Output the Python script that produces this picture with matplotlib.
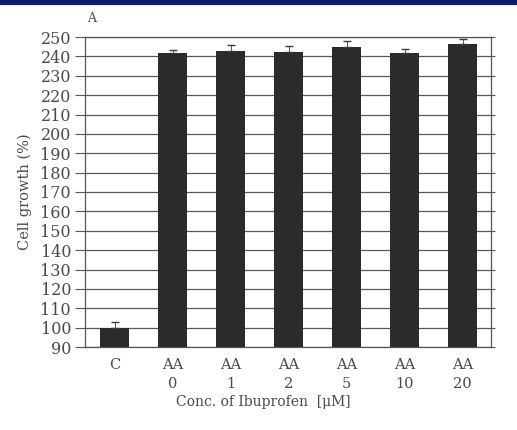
import matplotlib
matplotlib.use("Agg")
import matplotlib.pyplot as plt
from matplotlib.patches import Rectangle

# Cell growth (%) for the control and arachidonic acid + ibuprofen groups
groups = ["C", "AA\n0", "AA\n1", "AA\n2", "AA\n5", "AA\n10", "AA\n20"]
growth = [100, 241.5, 243, 242.5, 245, 242, 246.5]
sem = [3, 2, 3, 3, 3, 2, 2.5]
yticks = list(range(90, 251, 10))

txt = "#4a4a4a"
plt.rcParams["font.family"] = ["DejaVu Serif"]

fig = plt.figure(figsize=(5.17, 4.30), dpi=100)
fig.patch.set_facecolor("white")

# navy header strip
fig.patches.append(Rectangle((0, 1 - 5 / 430), 1, 5 / 430, transform=fig.transFigure,
                             facecolor="#0b1d6e", edgecolor="none", zorder=10))

ax = fig.add_axes([85 / 517, 1 - 347 / 430, (491 - 85) / 517, (347 - 37) / 430])
x = list(range(len(groups)))
ax.bar(x, growth, width=0.5, color="#2b2b2b", zorder=3, bottom=0)
ax.errorbar(x, growth, yerr=[[0] * len(sem), sem], fmt="none", ecolor="#3a3a3a",
            elinewidth=0.6, capsize=3, capthick=1, zorder=4)

ax.set_xlim(-0.51, 6.49)
ax.set_ylim(90, 250)
ax.set_yticks(yticks)
ax.set_yticklabels([str(v) for v in yticks], color=txt, fontsize=11.5)
ax.set_xticks(x)
ax.set_xticklabels(groups, color=txt, fontsize=10.5, linespacing=1.45)
ax.tick_params(axis="x", length=0, pad=8)
ax.tick_params(axis="y", length=7, width=0.8, color="#555555", pad=3, right=True,
               direction="out")
# shorter ticks on the right-hand side
for t in ax.yaxis.get_major_ticks():
    t.tick2line.set_markersize(3)
ax.yaxis.grid(True, color="#5a5a5a", linewidth=0.9, zorder=0)
ax.set_axisbelow(True)
for s in ax.spines.values():
    s.set_color("#555555")
    s.set_linewidth(0.9)

ax.set_ylabel("Cell growth (%)", color=txt, fontsize=10.5, labelpad=6)
fig.text(263 / 517, 1 - 402 / 430, "Conc. of Ibuprofen  [\u03bcM]", ha="center",
         va="center", color=txt, fontsize=10)
fig.text(92 / 517, 1 - 19 / 430, "A", ha="center", va="center", color=txt, fontsize=9)

fig.savefig("out.png", dpi=100)
